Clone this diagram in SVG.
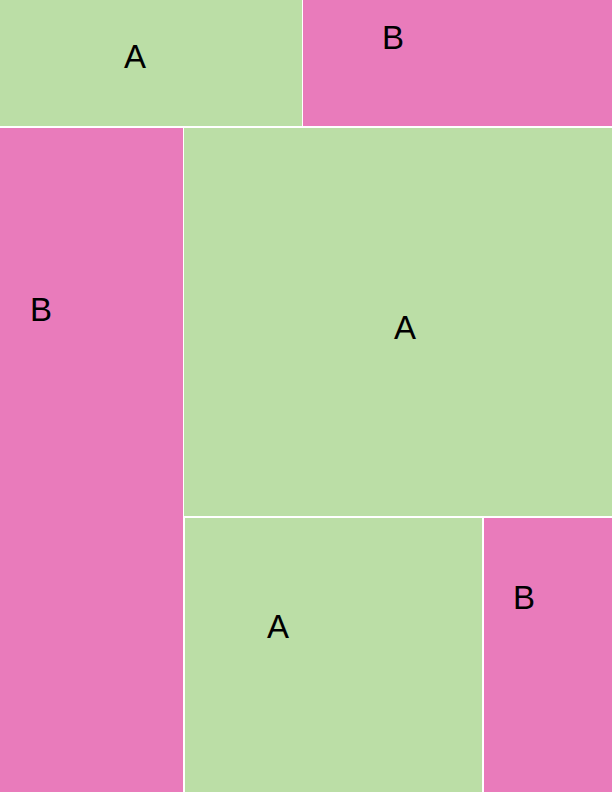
<svg xmlns="http://www.w3.org/2000/svg" width="612" height="792" viewBox="0 0 612 792">
<style>
.a{fill:#BBDEA6}
.b{fill:#E97BBB}
text{font-family:"Liberation Sans",Arial,sans-serif;font-size:33px;fill:#000;text-anchor:middle}
</style>
<rect x="0" y="0" width="612" height="792" fill="#ffffff"/>
<g id="topA"><rect class="a" x="0" y="0" width="302" height="126"/><text x="135" y="68">A</text></g>
<g id="topB"><rect class="b" x="303" y="0" width="309" height="126"/><text x="393" y="49">B</text></g>
<g id="leftB"><rect class="b" x="0" y="128" width="183" height="664"/><text x="41" y="321">B</text></g>
<g id="bigA"><rect class="a" x="184" y="128" width="428" height="388"/><text x="405" y="339">A</text></g>
<g id="lowA"><rect class="a" x="185" y="518" width="297" height="274"/><text x="278" y="638">A</text></g>
<g id="lowB"><rect class="b" x="484" y="518" width="128" height="274"/><text x="524" y="609">B</text></g>
<g id="connectors"></g>
</svg>
